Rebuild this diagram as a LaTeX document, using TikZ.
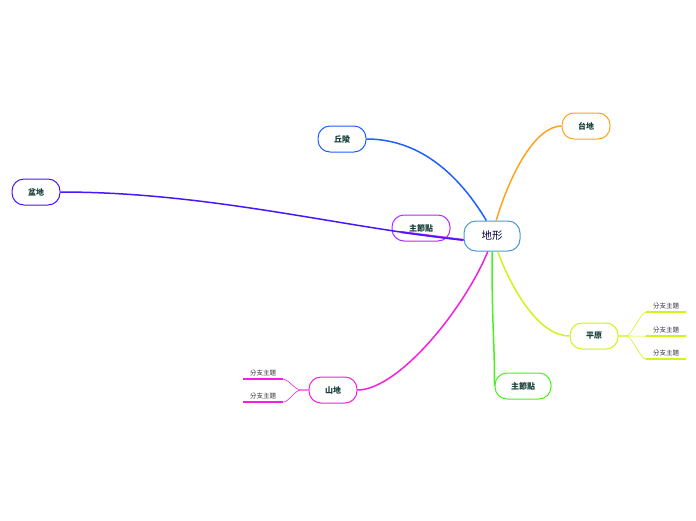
\documentclass[tikz,border=0pt]{standalone}
\usepackage{fontspec}
\newfontfamily\cjk{Noto Sans CJK TC}
\usepackage{tikz}
\usetikzlibrary{positioning, calc}
\usepackage{xcolor}
\definecolor{rootblue}{HTML}{4A9AD6}
\definecolor{labelgreen}{HTML}{17403A}
\definecolor{tdorange}{HTML}{FFA21F}
\definecolor{qlblue}{HTML}{1F5FFF}
\definecolor{pdviolet}{HTML}{4A16FF}
\definecolor{zjpurple}{HTML}{B22BFF}
\definecolor{pyyellow}{HTML}{CCF51A}
\definecolor{zjgreen}{HTML}{48F21E}
\definecolor{sdmagenta}{HTML}{F51FDD}

\begin{document}
\begin{tikzpicture}[
    x=1pt, y=-1pt,
    every node/.style={font=\cjk\bfseries\fontsize{8}{10}\selectfont, text=labelgreen, align=center},
    topic/.style={draw, line width=1pt, rounded corners=12pt, fill=white, minimum width=48pt, minimum height=26pt},
    root/.style={topic, draw=rootblue, minimum width=56pt, minimum height=30pt, font=\cjk\fontsize{10.5}{12}\selectfont, text=black!75!blue},
    sub/.style={font=\cjk\fontsize{6.5}{8}\selectfont, text=black!80, minimum width=40pt, minimum height=12pt, inner sep=1pt},
    link/.style={line width=1.5pt},
    twig/.style={line width=0.6pt},
    uline/.style={line width=1.6pt}
]
\useasboundingbox (0,0) rectangle (696,520);

\node[root] (dixing) at (492,236) {地形};
\node[topic, draw=tdorange] (taidi) at (586,126) {台地};
\node[topic, draw=qlblue] (qiuling) at (342,139) {丘陵};
\node[topic, draw=pdviolet] (pendi) at (36,192) {盆地};
\node[topic, draw=zjpurple, minimum width=58pt] (zhujie1) at (421,228) {主節點};
\node[topic, draw=pyyellow] (pingyuan) at (594,336) {平原};
\node[topic, draw=zjgreen, minimum width=56pt] (zhujie2) at (523,386) {主節點};
\node[topic, draw=sdmagenta] (shandi) at (333,390) {山地};

% branches of the mountain node
\node[sub] (sd1) at (263,373) {分支主題};
\node[sub] (sd2) at (263,396) {分支主題};
% branches of the plain node
\node[sub] (py1) at (666,306) {分支主題};
\node[sub] (py2) at (666,330) {分支主題};
\node[sub] (py3) at (666,353) {分支主題};

\path (dixing.188) .. controls +(-120,-12) and +(150,0) .. (pendi.east) coordinate[pos=0.17] (zjtip);
\draw[link, tdorange] (dixing.75) .. controls +(15,-50) and +(-25,0) .. (taidi.west);
\draw[link, qlblue] (dixing.110) .. controls +(-30,-50) and +(50,0) .. (qiuling.east);
\draw[line width=2.2pt, zjpurple] (dixing.188) -- (zjtip);
\draw[link, pdviolet] (dixing.188) .. controls +(-120,-12) and +(150,0) .. (pendi.east);
\draw[link, sdmagenta] (dixing.255) .. controls +(-25,60) and +(40,0) .. (shandi.east);
\draw[link, zjgreen] (dixing.south) .. controls +(0,80) and +(0,-50) .. (zhujie2.west);
\draw[link, pyyellow] (dixing.290) .. controls +(15,40) and +(-30,0) .. (pingyuan.west);

\foreach \s in {sd1, sd2} {
  \draw[uline, sdmagenta] (\s.south west) -- (\s.south east);
  \draw[twig, sdmagenta] (shandi.west) -- ++(-8,0) .. controls +(-5,0) and +(5,0) .. (\s.south east);
}
\foreach \s in {py1, py2, py3} {
  \draw[uline, pyyellow] (\s.south west) -- (\s.south east);
  \draw[twig, pyyellow] (pingyuan.east) -- ++(8,0) .. controls +(5,0) and +(-5,0) .. (\s.south west);
}
\end{tikzpicture}
\end{document}
